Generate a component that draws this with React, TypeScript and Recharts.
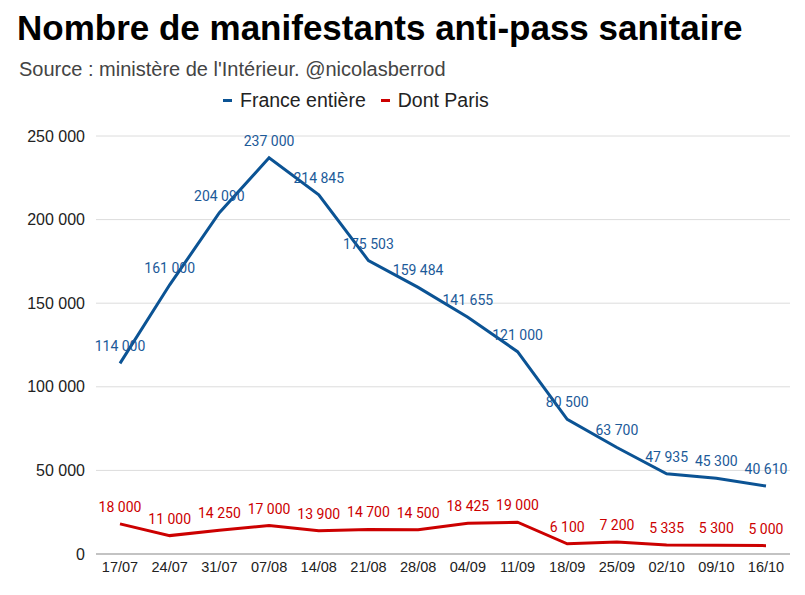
import { CartesianGrid, LabelList, Line, LineChart, XAxis, YAxis } from 'recharts';

// dates des samedis de mobilisation
const dates = ['17/07', '24/07', '31/07', '07/08', '14/08', '21/08', '28/08', '04/09', '11/09', '18/09', '25/09', '02/10', '09/10', '16/10'];
const france = [114000, 161000, 204090, 237000, 214845, 175503, 159484, 141655, 121000, 80500, 63700, 47935, 45300, 40610];
const paris = [18000, 11000, 14250, 17000, 13900, 14700, 14500, 18425, 19000, 6100, 7200, 5335, 5300, 5000];
const yTicks = [0, 50000, 100000, 150000, 200000, 250000];

const BLUE = '#0b5394';
const RED = '#cc0000';

const fmt = (v: number) => String(v).replace(/\B(?=(\d{3})+(?!\d))/g, ' ');

const data = dates.map((d, i) => ({ date: d, france: france[i], paris: paris[i] }));

const Legend = () => (
  <div style={{ position: 'absolute', top: 89, left: 223, display: 'flex', alignItems: 'center', fontSize: 19.5, color: '#222', fontFamily: '"Liberation Sans", Arial, sans-serif' }}>
    <span style={{ width: 9, height: 3, background: BLUE, display: 'inline-block', marginRight: 8 }} />
    <span style={{ marginRight: 15 }}>France entière</span>
    <span style={{ width: 9, height: 3, background: RED, display: 'inline-block', marginRight: 8 }} />
    <span>Dont Paris</span>
  </div>
);

export default function App() {
  return (
    <div style={{ position: 'relative', width: 805, height: 595, background: '#fff', fontFamily: '"Liberation Sans", Arial, sans-serif' }}>
      <style>{'body{margin:0}'}</style>
      <div style={{ position: 'absolute', top: 8, left: 17, fontSize: 35, fontWeight: 'bold', color: '#000' }}>
        Nombre de manifestants anti-pass sanitaire
      </div>
      <div style={{ position: 'absolute', top: 58, left: 19, fontSize: 20, color: '#444' }}>
        Source : ministère de l'Intérieur. @nicolasberrod
      </div>
      <Legend />
      <LineChart width={805} height={595} data={data} margin={{ top: 136, right: 15, left: 0, bottom: 11 }}>
        <CartesianGrid vertical={false} stroke="#dcdcdc" />
        <XAxis
          dataKey="date"
          padding={{ left: 24, right: 24 }}
          tickLine={false}
          axisLine={{ stroke: '#999' }}
          height={30}
          tick={{ fontSize: 14.5, fill: '#222' }}
          interval={0}
        />
        <YAxis
          domain={[0, 250000]}
          ticks={yTicks}
          width={96}
          tickLine={false}
          axisLine={false}
          tickMargin={5}
          tickFormatter={fmt}
          tick={{ fontSize: 16, fill: '#222' }}
        />
        <Line dataKey="france" stroke={BLUE} strokeWidth={3} dot={false} isAnimationActive={false}>
          <LabelList dataKey="france" position="top" offset={12} formatter={(v: any) => fmt(Number(v))} style={{ fill: '#1c5a99', fontSize: 14, fontFamily: 'Roboto, sans-serif' }} />
        </Line>
        <Line dataKey="paris" stroke={RED} strokeWidth={3} dot={false} isAnimationActive={false}>
          <LabelList dataKey="paris" position="top" offset={12} formatter={(v: any) => fmt(Number(v))} style={{ fill: RED, fontSize: 14, fontFamily: 'Roboto, sans-serif' }} />
        </Line>
      </LineChart>
    </div>
  );
}
